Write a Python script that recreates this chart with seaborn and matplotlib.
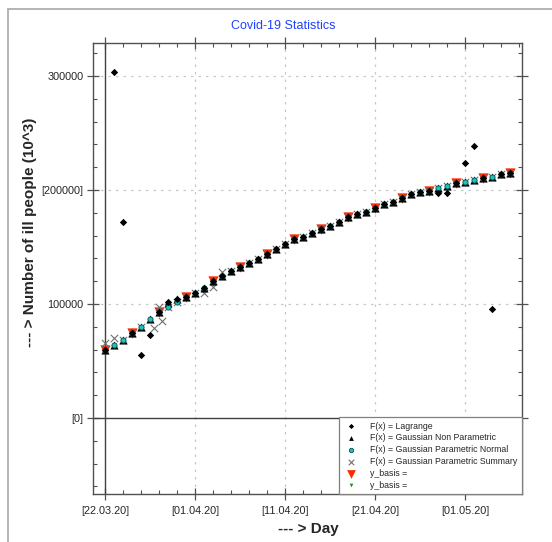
import numpy as np
import pandas as pd
import matplotlib
matplotlib.use("Agg")
import matplotlib.pyplot as plt
import matplotlib.ticker as mticker
from matplotlib.patches import Rectangle
import seaborn as sns

# =========================================================
# DATA
# =========================================================

START_DATE = pd.Timestamp("2020-03-22")

days = list(range(46))

# common curve (Gaussian fits mostly sit on it)
main_curve = [
    59600, 64000, 68400, 74600, 80000, 86800, 93300, 97600, 101600, 106400,
    109600, 114300, 120000, 124600, 129000, 132700, 136000, 139500, 143900, 148000,
    152600, 156700, 159000, 162300, 165500, 168700, 172200, 176600, 179000, 181000,
    184500, 187400, 189700, 192700, 196200, 198500, 199400, 201500, 203300, 205900,
    207300, 208800, 210300, 211700, 213700, 214600,
]

# Lagrange deviations from the curve
lagrange_outliers = {
    1: 303800, 2: 172000, 4: 55000, 5: 72800, 7: 101600, 8: 104000,
    37: 197100, 38: 197100, 40: 223400, 41: 238600, 43: 95600,
}

gauss_np_changes = {7: 100500, 8: 104000}

# summary points that leave the curve (early days)
summary_days = [0, 1, 5.4, 6, 6.3, 11, 12, 13]
summary_vals = [65800, 70000, 78700, 97600, 85000, 109600, 115000, 128300]

basis_days = list(range(0, 46, 3))

tick_days = [0, 10, 20, 30, 40]
y_ticks = [0, 100000, 200000, 300000]
y_tick_labels = ["[0]", "100000", "[200000]", "300000"]

# =========================================================
# BUILD SERIES
# =========================================================

lagrange = [lagrange_outliers.get(d, v) for d, v in zip(days, main_curve)]
gauss_np = [gauss_np_changes.get(d, v) for d, v in zip(days, main_curve)]
gauss_normal = main_curve

moved = (0, 1, 5, 6, 11, 12, 13)
sum_x = summary_days + [d for d in days if d not in moved]
sum_y = summary_vals + [main_curve[d] for d in days if d not in moved]

basis = [main_curve[d] for d in basis_days]

# =========================================================
# FIGURE
# =========================================================

sns.set_theme(style="white")
plt.rcParams["font.family"] = ["Liberation Sans", "DejaVu Sans"]

fig = plt.figure(figsize=(5.52, 5.42), dpi=100)

W, H = 552, 542
ax = fig.add_axes([93 / W, 1 - 494 / H, (522 - 93) / W, (494 - 43) / H])

# outer frame
fig.patches.append(
    Rectangle((8 / W, -0.1), 1.2, 1.1 - 9 / H, transform=fig.transFigure,
              fill=False, edgecolor="#a8a8a8", linewidth=1.2)
)

# grid + zero lines
for d in tick_days[1:]:
    ax.axvline(d, color="#c8c8c8", linestyle=(0, (2, 4)), linewidth=0.9, zorder=0)
for v in y_ticks[1:]:
    ax.axhline(v, color="#c8c8c8", linestyle=(0, (2, 4)), linewidth=0.9, zorder=0)

ax.axhline(0, color="#404040", linewidth=1.0, zorder=1)
ax.axvline(0, color="#404040", linewidth=1.0, zorder=1)

# series
sns.scatterplot(x=basis_days, y=basis, marker="v", color="#1a8a1a", s=10,
                linewidth=0, ax=ax, zorder=2, label="y_basis =")
sns.scatterplot(x=basis_days, y=basis, marker="v", color="#ff2a00", s=55,
                linewidth=0, ax=ax, zorder=3, label="y_basis =")
sns.scatterplot(x=sum_x, y=sum_y, marker="x", color="#707070", s=28,
                linewidth=0.8, ax=ax, zorder=4,
                label="F(x) = Gaussian Parametric Summary")
sns.scatterplot(x=days, y=gauss_np, marker="^", color="black", s=34,
                linewidth=0, ax=ax, zorder=5,
                label="F(x) = Gaussian Non Parametric")
sns.scatterplot(x=days, y=gauss_normal, marker="o", color="#20c0c0", s=14,
                edgecolor="#005050", linewidth=0.6, ax=ax, zorder=6,
                label="F(x) = Gaussian Parametric Normal")
sns.scatterplot(x=days, y=lagrange, marker="D", color="black", s=14,
                linewidth=0, ax=ax, zorder=7, label="F(x) = Lagrange")

# axes
ax.set_xlim(-1.33, 46.33)
ax.set_ylim(-66700, 329000)

ax.xaxis.set_major_locator(mticker.FixedLocator(tick_days))
ax.xaxis.set_minor_locator(mticker.MultipleLocator(2))
ax.set_xticklabels(
    ["[" + (START_DATE + pd.Timedelta(days=d)).strftime("%d.%m.%y") + "]" for d in tick_days]
)

ax.yaxis.set_major_locator(mticker.FixedLocator(y_ticks))
ax.yaxis.set_minor_locator(mticker.MultipleLocator(20000))
ax.set_yticklabels(y_tick_labels)

ax.tick_params(which="major", direction="inout", length=8, width=0.9,
               color="#505050", labelsize=7.8, top=True, right=True,
               bottom=True, left=True)
ax.tick_params(which="minor", direction="in", length=3, width=0.8,
               color="#505050", top=True, right=True, bottom=True, left=True)
ax.tick_params(axis="x", which="major", pad=5)
ax.tick_params(axis="y", which="major", pad=3)

for spine in ax.spines.values():
    spine.set_color("#505050")
    spine.set_linewidth(1.0)

ax.set_xlabel("")
ax.set_ylabel("")

# legend in the reference order
handles, labels = ax.get_legend_handles_labels()
order = [5, 3, 4, 2, 1, 0]
leg = ax.legend(
    [handles[i] for i in order], [labels[i] for i in order],
    loc="lower right", borderaxespad=0, fontsize=6.3, frameon=True,
    fancybox=False, edgecolor="#808080", framealpha=1,
    labelspacing=0.32, handletextpad=1.3, borderpad=0.5,
    handlelength=1.8,
)
legend_sizes = [7, 12, 10, 16, 40, 7]
for h, sz in zip(leg.legend_handles, legend_sizes):
    h.set_sizes([sz])
leg.get_frame().set_linewidth(0.9)
leg.set_zorder(10)

# texts
fig.text(283 / W, 1 - 26 / H, "Covid-19 Statistics", color="#2040ff",
         fontsize=9, ha="center", va="center")
fig.text(308 / W, 1 - 529 / H, "--- > Day", fontsize=11, fontweight="bold",
         ha="center", va="center")
fig.text(30 / W, 1 - 232 / H, "--- > Number of ill people (10^3)", fontsize=11,
         fontweight="bold", ha="center", va="center", rotation=90)

fig.savefig("out.png", dpi=100)
